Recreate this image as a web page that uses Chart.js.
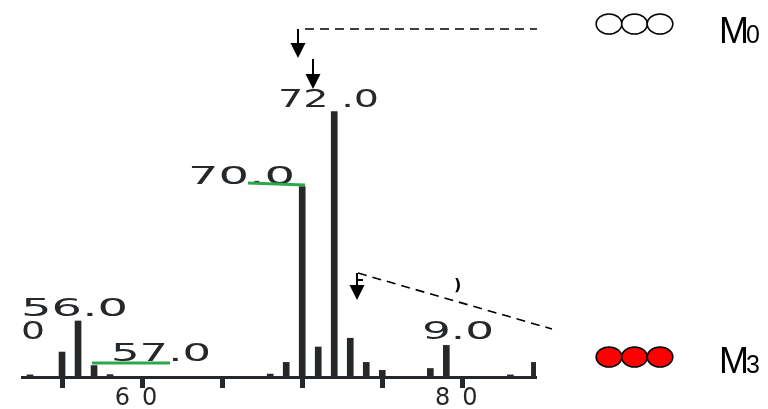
<!DOCTYPE html>
<html>
<head>
<meta charset="utf-8">
<script src="https://cdn.jsdelivr.net/npm/chart.js@4"></script>
<style>
  body { margin: 0; background: #fff; }
</style>
</head>
<body>
<canvas id="spectrumChart" width="768" height="409"></canvas>
<script>
// m/z positions and relative intensities
const mzValues = [53, 55, 56, 57, 58, 68, 69, 70, 71, 72, 73, 74, 75, 78, 79, 83, 84.5];
const intensities = [0.8, 9.4, 21.1, 4.3, 0.9, 1.1, 5.5, 71.7, 11.3, 100, 14.6, 5.5, 2.5, 3.2, 11.9, 0.8, 5.5];

// only these ticks carry a label
const labeledTicks = [60, 80];
const tickLabels = ['60', '80'];

const peakTexts = ['56.0', '0', '57.0', '70.0', '72 .0', '9.0'];
const legendNames = ['M', 'M'];
const legendSubs = ['0', '3'];

const ink = '#25282b';
const green = '#2aa84a';

function wideText(c, str, left, bottom, width) {
    c.save();
    c.font = '24px "DejaVu Sans"';
    c.fillStyle = ink;
    c.textBaseline = 'alphabetic';
    const natural = c.measureText(str).width;
    c.translate(left, bottom);
    c.scale(width / natural, 1);
    c.fillText(str, 0, 0);
    c.restore();
}

function arrowDown(c, x, y1, y2) {
    c.beginPath();
    c.moveTo(x, y1);
    c.lineTo(x, y2 - 13);
    c.stroke();
    c.beginPath();
    c.moveTo(x - 7.5, y2 - 15);
    c.lineTo(x + 7.5, y2 - 15);
    c.lineTo(x, y2);
    c.closePath();
    c.fill();
}

function ellipses(c, cy, fill) {
    [609, 634.5, 660].forEach(cx => {
        c.beginPath();
        c.ellipse(cx, cy, 12.8, 10, 0, 0, Math.PI * 2);
        c.fillStyle = fill;
        c.fill();
        c.stroke();
    });
}

const annotate = {
    id: 'annotate',
    beforeDraw(chart) {
        // wide spacing for the axis numbers
        chart.ctx.letterSpacing = '12px';
    },
    beforeDatasetsDraw(chart) {
        chart.ctx.letterSpacing = '0px';
    },
    afterDraw(chart) {
        const c = chart.ctx;
        c.save();

        // peak labels
        wideText(c, peakTexts[0], 21, 316, 107);
        wideText(c, peakTexts[1], 21, 339, 24);
        wideText(c, peakTexts[2], 111, 361, 100);
        wideText(c, peakTexts[3], 188, 184, 107);
        wideText(c, peakTexts[4], 278, 107, 101);
        wideText(c, peakTexts[5], 422, 339, 72);

        // green underlines
        c.strokeStyle = green;
        c.lineWidth = 3;
        c.beginPath();
        c.moveTo(248, 183); c.lineTo(305, 185);
        c.moveTo(92, 363); c.lineTo(170, 363);
        c.stroke();

        // arrows and dashed leaders
        c.strokeStyle = '#000';
        c.fillStyle = '#000';
        c.lineWidth = 2;
        arrowDown(c, 298, 29, 58);
        arrowDown(c, 313, 59, 89);
        arrowDown(c, 357, 273, 300);
        c.beginPath();
        c.moveTo(357, 280); c.lineTo(363, 280);
        c.stroke();

        c.lineWidth = 1.6;
        c.setLineDash([9, 6]);
        c.beginPath();
        c.moveTo(305, 29); c.lineTo(537, 29);
        c.moveTo(358, 273); c.lineTo(552, 329);
        c.stroke();
        c.setLineDash([]);

        c.font = 'bold 16px "DejaVu Sans"';
        c.fillText(')', 454, 290);

        // molecule symbols
        c.lineWidth = 1.6;
        c.strokeStyle = '#000';
        ellipses(c, 24, '#fff');
        ellipses(c, 357, '#ff0000');

        c.fillStyle = '#000';
        c.font = '36px "Liberation Sans"';
        c.fillText(legendNames[0], 719, 43);
        c.fillText(legendNames[1], 719, 373);
        c.font = '25px "Liberation Sans"';
        c.fillText(legendSubs[0], 746, 43);
        c.fillText(legendSubs[1], 746, 373);

        c.restore();
    }
};

const ctx = document.getElementById('spectrumChart').getContext('2d');

const spectrumChart = new Chart(ctx, {
    type: 'bar',
    data: {
        datasets: [{
            data: mzValues.map((mz, i) => ({ x: mz, y: intensities[i] })),
            backgroundColor: ink,
            borderWidth: 0,
            barThickness: 6,
        }]
    },
    options: {
        responsive: false,
        animation: false,
        layout: {
            padding: { left: 22, right: 232, top: 0, bottom: 0 }
        },
        plugins: {
            legend: { display: false },
            tooltip: { enabled: false }
        },
        scales: {
            x: {
                type: 'linear',
                min: 52.5,
                max: 84.6,
                offset: false,
                border: { display: true, color: ink, width: 3 },
                grid: {
                    offset: false,
                    drawOnChartArea: false,
                    drawTicks: true,
                    tickLength: 11,
                    tickWidth: 5,
                    tickColor: ink
                },
                ticks: {
                    stepSize: 5,
                    includeBounds: false,
                    autoSkip: false,
                    maxRotation: 0,
                    padding: -4,
                    color: ink,
                    font: { family: 'DejaVu Sans', size: 24 },
                    callback: v => {
                        const i = labeledTicks.indexOf(v);
                        return i >= 0 ? tickLabels[i] : '';
                    }
                },
                afterFit: s => { s.height = 32; }
            },
            y: {
                display: false,
                min: 0,
                max: 142
            }
        }
    },
    plugins: [annotate]
});
</script>
</body>
</html>
